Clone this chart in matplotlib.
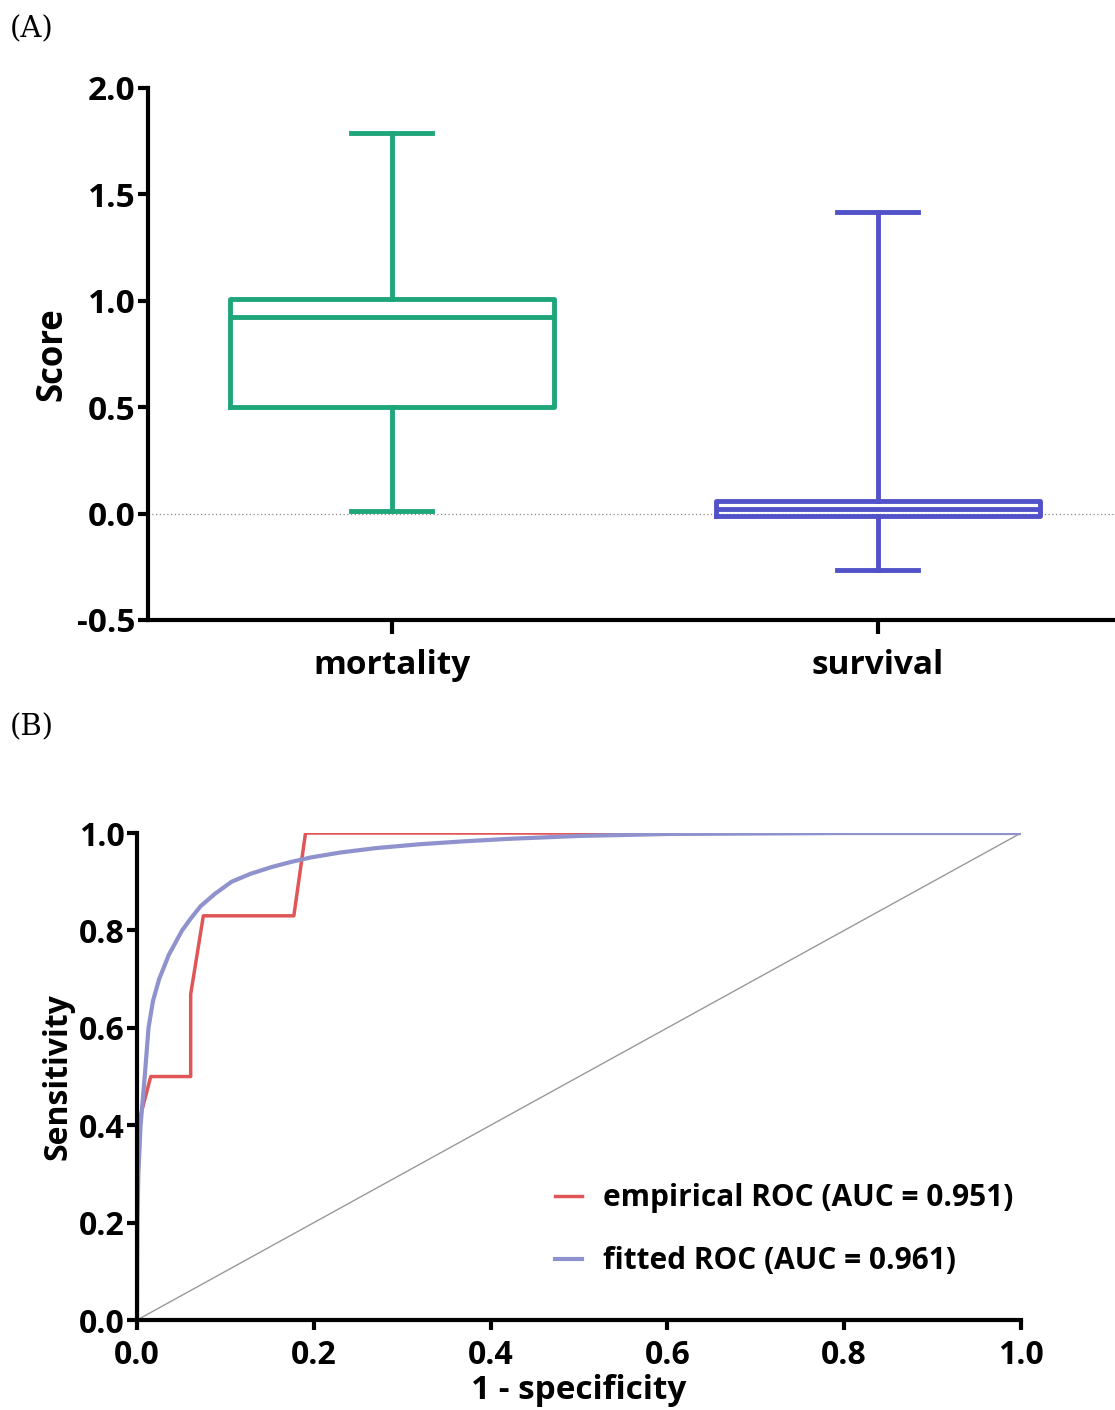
from matplotlib import pyplot as plt

plt.rcParams['font.family'] = ['Open Sans', 'DejaVu Sans']

# box plot summary (whisker low, q1, median, q3, whisker high)
groups = ["mortality", "survival"]
w_low = [0.01, -0.265]
q1 = [0.50, -0.01]
med = [0.925, 0.02]
q3 = [1.01, 0.06]
w_high = [1.79, 1.415]
box_colors = ['#1ea57a', '#5151c9']

# empirical ROC
emp_x = [0.0, 0.0, 0.0, 0.004, 0.0155, 0.0607, 0.0607, 0.075, 0.1774, 0.1906, 1.0]
emp_y = [0.0, 0.17, 0.33, 0.42, 0.5, 0.5, 0.669, 0.83, 0.83, 1.0, 1.0]

# fitted ROC
fit_x = [0.0, 0.0005, 0.0015, 0.004, 0.0087, 0.013, 0.018, 0.025, 0.036, 0.051, 0.061,
         0.072, 0.088, 0.107, 0.128, 0.152, 0.175, 0.197, 0.23, 0.27, 0.32, 0.37,
         0.42, 0.5, 0.6, 0.8, 1.0]
fit_y = [0.0, 0.2, 0.3, 0.4, 0.5, 0.6, 0.655, 0.7, 0.75, 0.8, 0.825,
         0.85, 0.875, 0.9, 0.916, 0.93, 0.941, 0.95, 0.96, 0.969, 0.977, 0.983,
         0.988, 0.994, 0.998, 1.0, 1.0]

fig = plt.figure(figsize=(11.15, 14.10), dpi=100)

# ---- (A) box plot
ax1 = fig.add_axes([0.1327, 0.5603, 0.8673, 0.3773])
stats = []
for i in range(len(groups)):
    stats.append({'whislo': w_low[i], 'q1': q1[i], 'med': med[i], 'q3': q3[i],
                  'whishi': w_high[i], 'label': groups[i]})
ax1.axhline(0, color='#888888', lw=0.9, ls=(0, (1, 2)), zorder=0)
for i, s in enumerate(stats):
    c = box_colors[i]
    ax1.bxp([s], positions=[i], widths=0.667, showfliers=False,
            boxprops=dict(color=c, lw=3.5),
            medianprops=dict(color=c, lw=3.5),
            whiskerprops=dict(color=c, lw=3.5),
            capprops=dict(color=c, lw=3.5),
            capwidths=0.167)
ax1.set_xlim(-0.502, 1.488)
ax1.set_ylim(-0.5, 2.0)
ax1.set_yticks([-0.5, 0.0, 0.5, 1.0, 1.5, 2.0])
ax1.set_yticklabels(['-0.5', '0.0', '0.5', '1.0', '1.5', '2.0'])
ax1.set_xticks([0, 1])
ax1.set_xticklabels(groups)
ax1.spines['top'].set_visible(False)
ax1.spines['right'].set_visible(False)
for sp in ['left', 'bottom']:
    ax1.spines[sp].set_linewidth(3)
ax1.tick_params(axis='y', width=3, length=7, labelsize=24, pad=2)
ax1.tick_params(axis='x', width=3, length=10, labelsize=24, pad=11)
for lab in ax1.get_xticklabels() + ax1.get_yticklabels():
    lab.set_fontweight('bold')
ax1.set_ylabel('Score', fontsize=25, fontweight='bold', labelpad=5)

# ---- (B) ROC
ax2 = fig.add_axes([0.1229, 0.0638, 0.7928, 0.3454])
ax2.plot([0, 1], [0, 1], color='#999999', lw=1)
ax2.plot(emp_x, emp_y, color='#e05656', lw=2.5, label='empirical ROC (AUC = 0.951)')
ax2.plot(fit_x, fit_y, color='#8f92cc', lw=3, label='fitted ROC (AUC = 0.961)')
ax2.set_xlim(0, 1)
ax2.set_ylim(0, 1)
ax2.set_xticks([0, 0.2, 0.4, 0.6, 0.8, 1.0])
ax2.set_xticklabels(['0.0', '0.2', '0.4', '0.6', '0.8', '1.0'])
ax2.set_yticks([0, 0.2, 0.4, 0.6, 0.8, 1.0])
ax2.set_yticklabels(['0.0', '0.2', '0.4', '0.6', '0.8', '1.0'])
ax2.spines['top'].set_visible(False)
ax2.spines['right'].set_visible(False)
for sp in ['left', 'bottom']:
    ax2.spines[sp].set_linewidth(3)
ax2.tick_params(axis='y', width=3, length=7, labelsize=23, pad=2)
ax2.tick_params(axis='x', width=3, length=7, labelsize=23, pad=7)
for lab in ax2.get_xticklabels() + ax2.get_yticklabels():
    lab.set_fontweight('bold')
ax2.set_xlabel('1 - specificity', fontsize=24, fontweight='bold', labelpad=1)
ax2.set_ylabel('Sensitivity', fontsize=23, fontweight='bold', labelpad=3)
leg = ax2.legend(loc='lower right', bbox_to_anchor=(1.022, 0.035), frameon=False,
                 prop={'size': 21.5, 'weight': 'bold'}, handlelength=0.9,
                 labelspacing=1.1, handletextpad=0.7)

fig.text(0.009, 0.979, '(A)', fontsize=21, family='DejaVu Serif', va='center')
fig.text(0.009, 0.484, '(B)', fontsize=21, family='DejaVu Serif', va='center')

fig.savefig('out.png', dpi=100)
